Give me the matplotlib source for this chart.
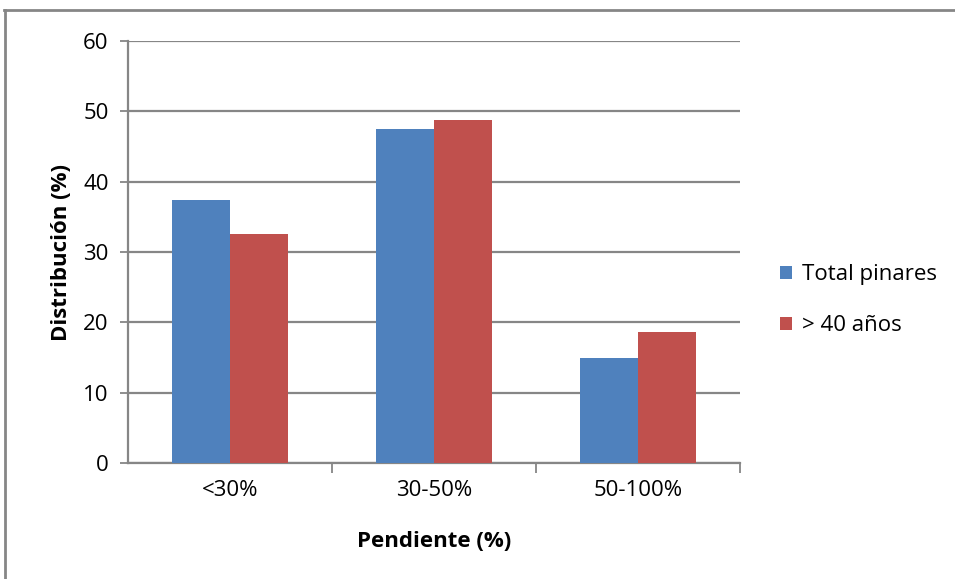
import matplotlib.pyplot as plt
from matplotlib.lines import Line2D
import numpy as np

plt.rcParams['font.family'] = ['Open Sans', 'DejaVu Sans']

categories = ["<30%", "30-50%", "50-100%"]
total_pinares = [37.4, 47.5, 14.9]
mayores_40 = [32.5, 48.8, 18.6]

fig = plt.figure(figsize=(9.55, 5.79), dpi=100)
ax = fig.add_axes([0.134, 0.2003, 0.641, 0.7289])

x = np.arange(len(categories))
w = 0.284
ax.bar(x - w/2, total_pinares, w, color="#4F81BD", label="Total pinares", zorder=3)
ax.bar(x + w/2, mayores_40, w, color="#C0504D", label="> 40 años", zorder=3)

ax.set_xlim(-0.5, 2.5)
ax.set_ylim(0, 60)
ax.set_yticks(range(0, 61, 10))
ax.yaxis.grid(True, color="#868686", linewidth=1.6)
ax.set_axisbelow(True)

for s in ["top", "right"]:
    ax.spines[s].set_visible(False)
for s in ["left", "bottom"]:
    ax.spines[s].set_color("#868686")
    ax.spines[s].set_linewidth(1.6)

ax.set_xticks(x)
ax.set_xticklabels(categories, fontsize=16)
ax.tick_params(axis="x", length=0, pad=12)
ax.set_xticks([0.5, 1.5, 2.5], minor=True)
ax.tick_params(axis="x", which="minor", length=7, color="#868686", width=1.3)
ax.tick_params(axis="y", labelsize=16, length=6, color="#868686", width=1.3, pad=8)

ax.set_xlabel("Pendiente (%)", fontsize=16, fontweight="bold", labelpad=22)
ax.set_ylabel("Distribución (%)", fontsize=16, fontweight="bold", labelpad=8)

ax.legend(loc="center left", bbox_to_anchor=(1.032, 0.386), frameon=False,
          fontsize=16, handlelength=0.55, handleheight=0.55, handletextpad=0.45,
          labelspacing=1.35)

# outer chart frame (only top and left visible in the picture)
fig.add_artist(Line2D([0.004, 1.0], [0.983, 0.983], color="#868686", linewidth=2,
                      transform=fig.transFigure))
fig.add_artist(Line2D([0.005, 0.005], [0.0, 0.983], color="#868686", linewidth=2,
                      transform=fig.transFigure))

fig.savefig("out.png", dpi=100)
